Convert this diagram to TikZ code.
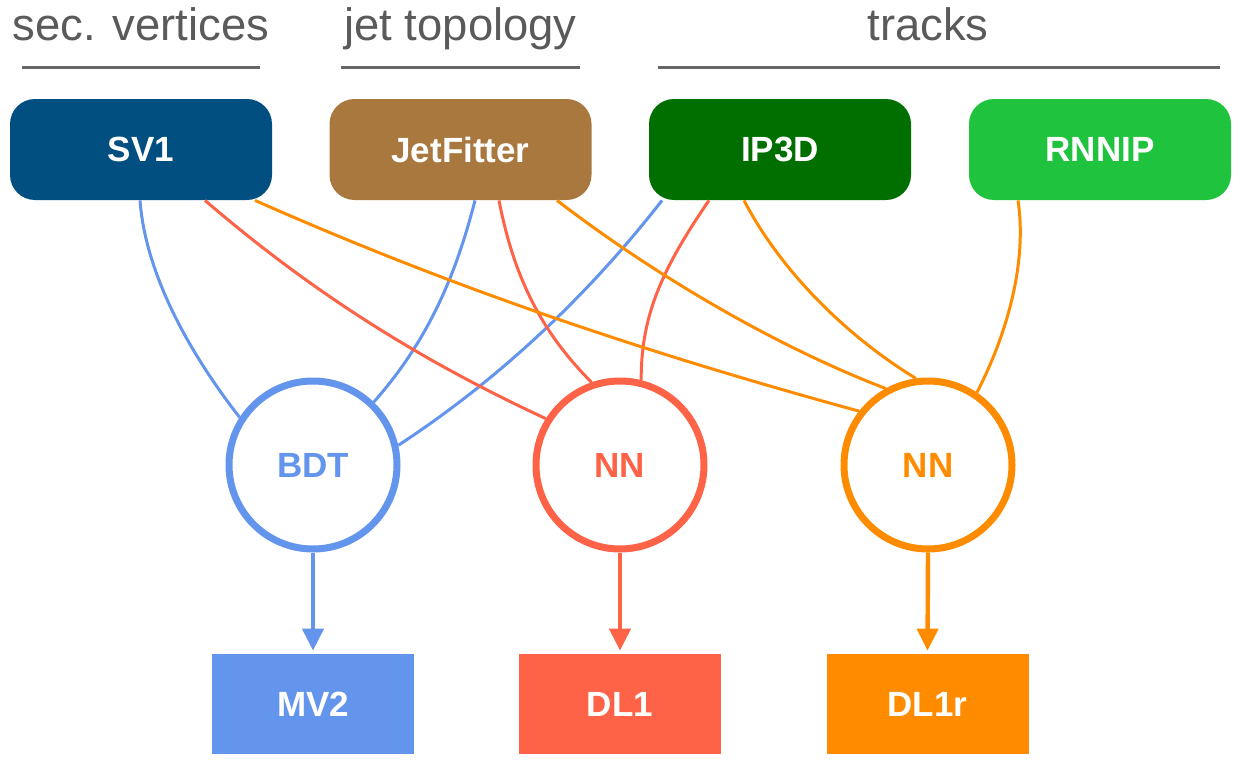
\documentclass[tikz,border=0pt]{standalone}
\usepackage{fontspec}
\setmainfont{Liberation Sans}
\usetikzlibrary{calc,arrows.meta}
\definecolor{svblue}{HTML}{004F80}
\definecolor{jfbrown}{HTML}{A8783F}
\definecolor{ipgreen}{HTML}{006F00}
\definecolor{rnngreen}{HTML}{20C33E}
\definecolor{cblue}{HTML}{6495ED}
\definecolor{cred}{HTML}{FF6347}
\definecolor{corange}{HTML}{FF8C00}
\definecolor{hdrgray}{HTML}{5A5A5A}
\definecolor{linegray}{HTML}{666666}
\begin{document}
\begin{tikzpicture}[x=0.5pt,y=0.5pt,
 hdr/.style={anchor=base, text=hdrgray, font=\fontsize{22.7}{26}\selectfont, inner sep=0pt},
 hline/.style={draw=linegray, line width=1.5pt},
 algo/.style={rounded corners=12.5pt, minimum width=131pt, minimum height=50.5pt, inner sep=0pt, text=white, font=\bfseries\fontsize{17.5}{21}\selectfont},
 comb/.style={circle, draw, fill=white, line width=3.5pt, minimum size=84pt, inner sep=0pt, font=\bfseries\fontsize{17.5}{21}\selectfont},
 tagger/.style={minimum width=101pt, minimum height=50pt, inner sep=0pt, text=white, font=\bfseries\fontsize{17.5}{21}\selectfont},
 link/.style={line width=1.5pt},
 outarrow/.style={line width=2.2pt, -{Triangle[length=11pt,width=10.5pt]}, shorten >=1.5pt}
]
\useasboundingbox (0,0) rectangle (1260,-771);
% headers
\node[hdr] (hsv) at (141,-40) {sec. vertices};
\node[hdr] (hjet) at (460.5,-40) {jet topology};
\node[hdr] (htrk) at (928,-40) {tracks};
\draw[hline] (22,-67) -- (260,-67);
\draw[hline] (341,-67) -- (580,-67);
\draw[hline] (658,-67) -- (1220,-67);
% algorithm boxes
\node[algo, fill=svblue] (sv1) at (141,-149.5) {SV1};
\node[algo, fill=jfbrown] (jf) at (460.5,-149.5) {JetFitter};
\node[algo, fill=ipgreen] (ip3d) at (780,-149.5) {IP3D};
\node[algo, fill=rnngreen] (rnnip) at (1100,-149.5) {RNNIP};
% combiners
\node[comb, draw=cblue, text=cblue] (bdt) at (313,-465) {BDT};
\node[comb, draw=cred, text=cred] (nnr) at (620,-465) {NN};
\node[comb, draw=corange, text=corange] (nno) at (928,-465) {NN};
% taggers
\node[tagger, fill=cblue] (mv2) at (313,-704) {MV2};
\node[tagger, fill=cred] (dl1) at (620,-704) {DL1};
\node[tagger, fill=corange] (dl1r) at (927.5,-704) {DL1r};
% connectors to BDT
\draw[link,cblue] ($(sv1.south)+(-1,0)$) .. controls +(6,-80) and +(-43,55) .. (bdt.147);
\draw[link,cblue] ($(jf.south)+(14.5,0)$) .. controls +(-20,-78) and +(53,60) .. (bdt.46);
\draw[link,cblue] ($(ip3d.south)+(-118,0)$) .. controls +(-74,-95) and +(101,66) .. (bdt.13);
% connectors to red NN
\draw[link,cred] ($(sv1.south)+(64,0)$) .. controls +(114,-98) and +(-118,55) .. (nnr.148);
\draw[link,cred] ($(jf.south)+(38.5,0)$) .. controls +(15,-78) and +(-49,49) .. (nnr.109);
\draw[link,cred] ($(ip3d.south)+(-71,0)$) .. controls +(-51,-74) and +(0,60) .. (nnr.76);
% connectors to orange NN
\draw[link,corange] ($(sv1.south)+(114,0)$) .. controls +(201,-89) and +(-212,58) .. (nno.142);
\draw[link,corange] ($(jf.south)+(96.5,0)$) .. controls +(95,-73) and +(-112,43) .. (nno.119);
\draw[link,corange] ($(ip3d.south)+(-36,0)$) .. controls +(37,-71) and +(-69,42) .. (nno.98);
\draw[link,corange] ($(rnnip.south)+(-82,0)$) .. controls +(9,-59) and +(32,62) .. (nno.56);
% outputs
\draw[outarrow,cblue] (bdt.south) -- (mv2.north);
\draw[outarrow,cred] (nnr.south) -- (dl1.north);
\draw[outarrow,corange] (nno.south) -- (dl1r.north);
\end{tikzpicture}
\end{document}
